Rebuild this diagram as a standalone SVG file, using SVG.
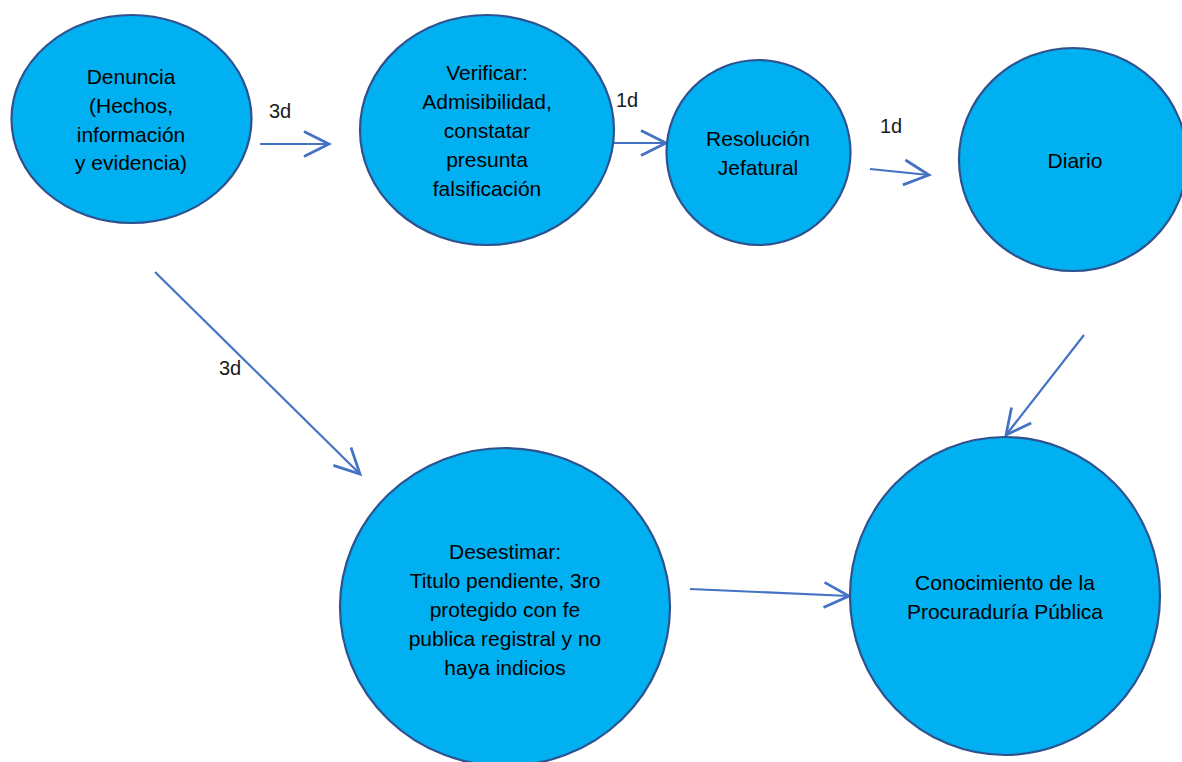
<svg xmlns="http://www.w3.org/2000/svg" width="1182" height="762" viewBox="0 0 1182 762">
<style>
.node{fill:#00B0F0;stroke:#2F528F;stroke-width:2.2}
.t{font-family:"Liberation Sans",Arial,sans-serif;font-size:21px;fill:#000;text-anchor:middle}
.lbl{font-family:"Liberation Sans",Arial,sans-serif;font-size:20px;fill:#1a1a1a}
.c{stroke:#4472C4;stroke-width:2.2;fill:none;marker-end:url(#ah)}
</style>
<defs>
<marker id="ah" markerUnits="userSpaceOnUse" markerWidth="30" markerHeight="30" refX="0" refY="0" viewBox="-22 -12 24 24" orient="auto" overflow="visible">
<path d="M-20,-10 L0,0 L-20,10" fill="none" stroke="#4472C4" stroke-width="2.2"/>
</marker>
</defs>
<rect width="1182" height="762" fill="#fff"/>
<g id="connectors">
<line class="c" x1="260" y1="144" x2="329" y2="144"/>
<line class="c" x1="597" y1="143" x2="666" y2="143"/>
<line class="c" x1="870" y1="169" x2="929" y2="175"/>
<line class="c" x1="155" y1="272" x2="360" y2="474"/>
<line class="c" x1="1084" y1="335" x2="1006" y2="435"/>
<line class="c" x1="690" y1="589" x2="849" y2="596"/>
<text class="lbl" x="269" y="118">3d</text>
<text class="lbl" x="616" y="107">1d</text>
<text class="lbl" x="880" y="133">1d</text>
<text class="lbl" x="219" y="375">3d</text>
</g>
<g id="denuncia">
<ellipse class="node" cx="131.5" cy="119" rx="120" ry="104"/>
<text class="t" x="131" y="84">Denuncia</text>
<text class="t" x="131" y="113">(Hechos,</text>
<text class="t" x="131" y="142">información</text>
<text class="t" x="131" y="170">y evidencia)</text>
</g>
<g id="verificar">
<ellipse class="node" cx="487" cy="130" rx="127" ry="115"/>
<text class="t" x="487" y="80">Verificar:</text>
<text class="t" x="487" y="109">Admisibilidad,</text>
<text class="t" x="487" y="138">constatar</text>
<text class="t" x="487" y="167">presunta</text>
<text class="t" x="487" y="196">falsificación</text>
</g>
<g id="resolucion">
<ellipse class="node" cx="758.5" cy="152.5" rx="92" ry="92.5"/>
<text class="t" x="758" y="146">Resolución</text>
<text class="t" x="758" y="175">Jefatural</text>
</g>
<g id="diario">
<ellipse class="node" cx="1073" cy="159.5" rx="114" ry="111.5"/>
<text class="t" x="1075" y="168">Diario</text>
</g>
<g id="desestimar">
<ellipse class="node" cx="505" cy="607" rx="165" ry="159"/>
<text class="t" x="505" y="559">Desestimar:</text>
<text class="t" x="505" y="588">Titulo pendiente, 3ro</text>
<text class="t" x="505" y="617">protegido con fe</text>
<text class="t" x="505" y="646">publica registral y no</text>
<text class="t" x="505" y="675">haya indicios</text>
</g>
<g id="conocimiento">
<ellipse class="node" cx="1005" cy="596" rx="155" ry="159"/>
<text class="t" x="1005" y="590">Conocimiento de la</text>
<text class="t" x="1005" y="619">Procuraduría Pública</text>
</g>
</svg>
